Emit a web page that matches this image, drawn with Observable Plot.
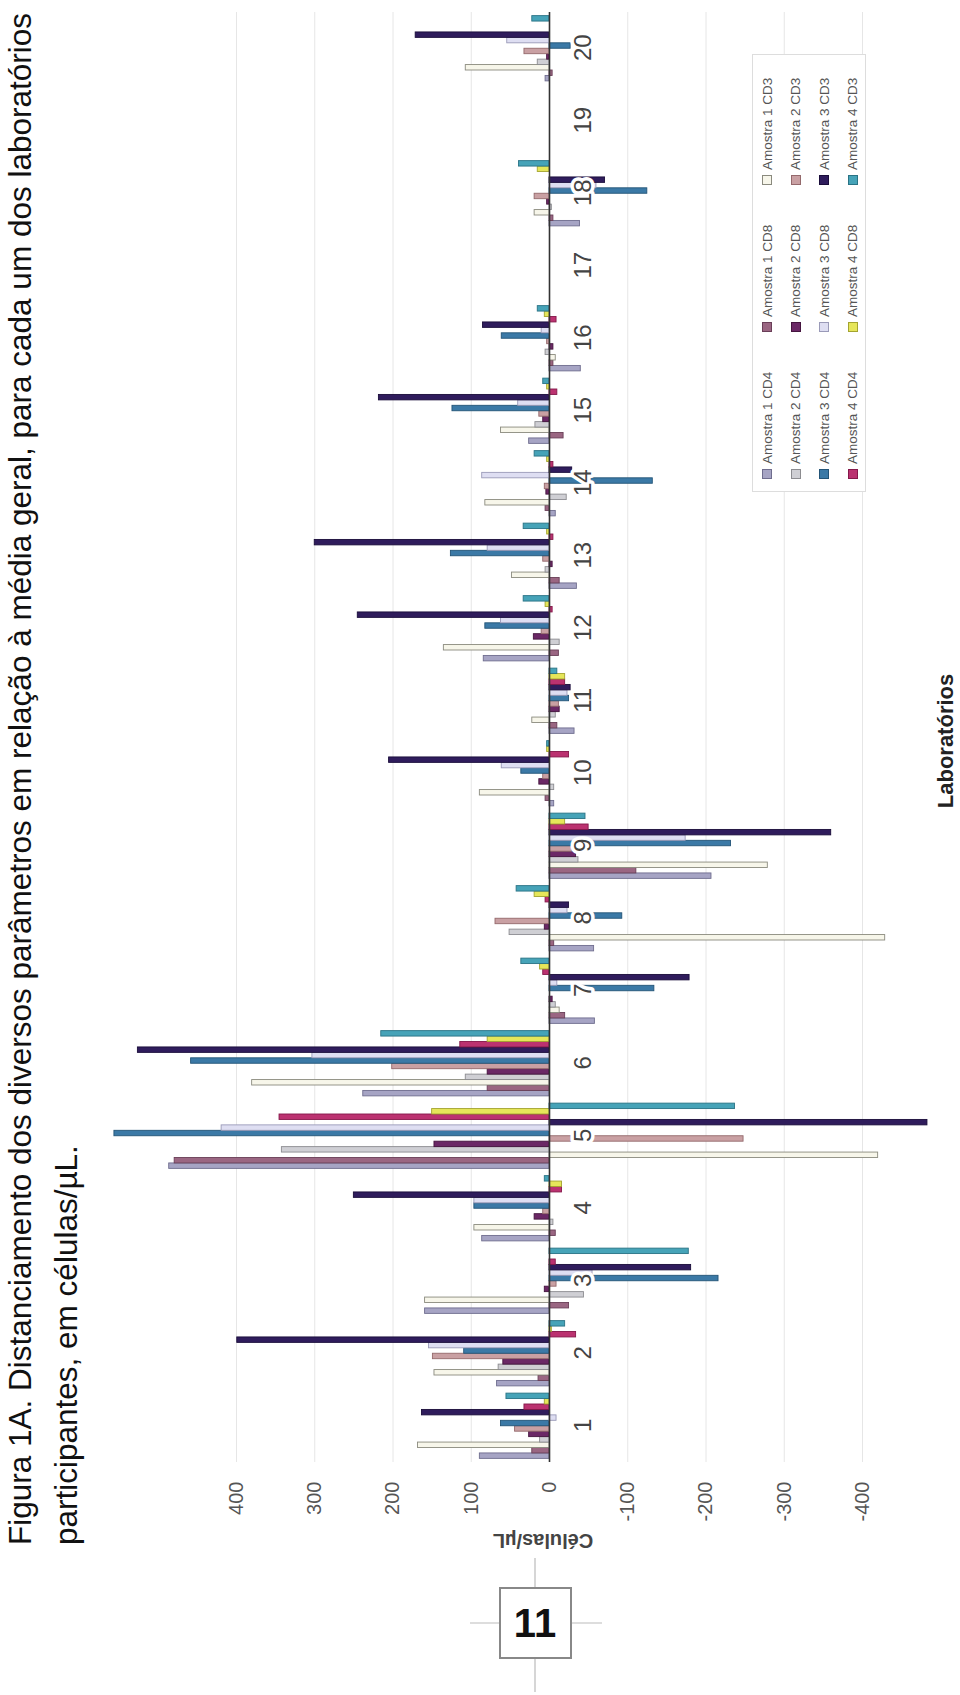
<!DOCTYPE html>
<html>
<head>
<meta charset="utf-8">
<script src="https://cdn.jsdelivr.net/npm/d3@7"></script>
<script src="https://cdn.jsdelivr.net/npm/@observablehq/plot@0.6"></script>
<style>
  html, body { margin: 0; padding: 0; background: #fff; }
  body { width: 960px; height: 1695px; position: relative; overflow: hidden; font-family: "Liberation Sans", Arial, sans-serif; }
  #rot { position: absolute; left: 0; top: 0; width: 1695px; height: 960px; transform-origin: 0 0; transform: translate(0px, 1695px) rotate(-90deg); }
  #chart { position: absolute; left: 0; top: 0; width: 1695px; height: 960px; }
  #title { position: absolute; left: 150px; top: -3px; font-size: 31.5px; line-height: 46px; color: #111; white-space: nowrap; }
  #ylab { position: absolute; left: 54px; top: 531px; width: 200px; height: 24px; line-height: 24px; text-align: center; font-size: 20px; font-weight: bold; color: #444; transform: rotate(-90deg); transform-origin: 50% 50%; }
  #xlab { position: absolute; left: 854px; top: 933px; width: 200px; height: 26px; line-height: 26px; text-align: center; font-size: 22px; font-weight: bold; color: #222; }
  #legend { position: absolute; left: 1203px; top: 752px; width: 438px; height: 114px; border: 1px solid #ddd; background: #fff; display: grid; grid-template-columns: repeat(3, 147px); grid-auto-rows: 28.5px; padding-left: 12px; box-sizing: border-box; }
  .item { display: flex; align-items: center; font-size: 13.5px; color: #555; white-space: nowrap; }
  .sw { width: 10px; height: 10px; margin-right: 5px; box-sizing: border-box; border: 1px solid; }
  #pg { position: absolute; left: 0; top: 0; }
</style>
</head>
<body>
<div id="rot">
  <div id="chart"></div>
  <div id="title"></div>
  <div id="ylab"></div>
  <div id="xlab"></div>
  <div id="legend"></div>
</div>
<svg id="pg" width="960" height="1695"></svg>
<script>
// ---- data ----
const labs = [1, 2, 3, 4, 5, 6, 7, 8, 9, 10, 11, 12, 13, 14, 15, 16, 17, 18, 19, 20];
const seriesNames = [
  "Amostra 1 CD4", "Amostra 1 CD8", "Amostra 1 CD3",
  "Amostra 2 CD4", "Amostra 2 CD8", "Amostra 2 CD3",
  "Amostra 3 CD4", "Amostra 3 CD8", "Amostra 3 CD3",
  "Amostra 4 CD4", "Amostra 4 CD8", "Amostra 4 CD3"
];
const seriesColors = ["#a6a4c4", "#9a6682", "#f7f6ea", "#cfcfd4", "#6b2866", "#c9a0a3",
                      "#3b79a6", "#dedef2", "#2f1c5c", "#bb3270", "#e6e65a", "#46a3b8"];
const seriesStrokes = ["#6f6d8e", "#6a3f58", "#8a8a7e", "#8c8c90", "#45153f", "#94696c",
                       "#235477", "#9a9ab8", "#1a0d3a", "#85184a", "#a4a430", "#2a7385"];
// values per series, labs 1..20 (células/µL)
const a1cd4 = [89, 67, 159, 86, 486, 238, -58, -57, -207, -6, -32, 84, -35, -8, 26, -40, 0, -39, 0, 5];
const a1cd8 = [22, 14, -25, -8, 479, 79, -20, -6, -111, 5, -10, -12, -13, 5, -18, -5, 0, -5, 0, -4];
const a1cd3 = [168, 147, 159, 96, -420, 380, -13, -429, -279, 89, 22, 135, 48, 82, 62, -8, 0, 19, 0, 107];
const a2cd4 = [12, 65, -44, -5, 342, 107, -8, 51, -37, -6, -8, -13, 5, -22, 18, 5, 0, -3, 0, 15];
const a2cd8 = [26, 59, 6, 19, 147, 79, -4, 6, -34, 13, -13, 20, -4, 4, 8, -5, 0, 3, 0, 3];
const a2cd3 = [44, 149, -9, 8, -248, 201, 0, 69, -29, 8, -12, 10, 8, 6, 13, 3, 0, 19, 0, 32];
const a3cd4 = [62, 109, -216, 96, 556, 458, -134, -93, -232, 36, -25, 82, 126, -132, 124, 61, 0, -125, 0, -27];
const a3cd8 = [-9, 154, -55, 96, 419, 303, -10, -23, -174, 61, -23, 62, 79, 86, 40, 10, 0, -60, 0, 54];
const a3cd3 = [163, 399, -181, 250, -483, 526, -179, -25, -360, 205, -27, 245, 300, -29, 218, 85, 0, -71, 0, 171];
const a4cd4 = [32, -34, -8, -16, 345, 114, 8, 5, -50, -25, -20, -4, -5, -5, -10, -9, 0, 0, 0, 0];
const a4cd8 = [6, -3, 0, -16, 150, 79, 12, 19, -20, 3, -20, 5, 3, 3, 3, 6, 0, 15, 0, 0];
const a4cd3 = [55, -20, -178, 6, -237, 215, 36, 42, -46, 3, -10, 33, 33, 19, 8, 15, 0, 39, 0, 22];
const seriesValues = [a1cd4, a1cd8, a1cd3, a2cd4, a2cd8, a2cd3, a3cd4, a3cd8, a3cd3, a4cd4, a4cd8, a4cd3];
const yTicks = [-400, -300, -200, -100, 0, 100, 200, 300, 400];
const titleLines = [
  "Figura 1A. Distanciamento dos diversos parâmetros em relação à média geral, para cada um dos laboratórios",
  "participantes, em células/µL."
];
const yTitle = "Células/µL";
const xTitle = "Laboratórios";
const pageNumber = "11";

// ---- table ----
const data = labs.flatMap((lab, i) => seriesValues.map((vals, s) => ({lab, s, v: vals[i]})));
const groupWidth = 0.9;
const barW = groupWidth / seriesNames.length;

const chart = Plot.plot({
  width: 1695,
  height: 960,
  marginLeft: 233,
  marginRight: 12,
  marginTop: 236,
  marginBottom: 98,
  style: {fontFamily: "Liberation Sans, Arial, sans-serif", fontSize: "20px", color: "#555", background: "transparent"},
  x: {domain: [0.5, 20.5], axis: null},
  y: {domain: [-400, 400], ticks: yTicks, tickSize: 0, tickPadding: 20, tickFormat: d => String(d), label: null},
  color: {type: "identity"},
  marks: [
    Plot.ruleY(yTicks, {stroke: "#e6e6e6", strokeWidth: 1}),
    Plot.rect(data, {
      x1: d => d.lab - groupWidth / 2 + d.s * barW,
      x2: d => d.lab - groupWidth / 2 + (d.s + 1) * barW,
      y1: () => 0,
      y2: d => d.v,
      fill: d => seriesColors[d.s],
      stroke: d => seriesStrokes[d.s],
      strokeWidth: 0.9
    }),
    Plot.ruleY([0], {stroke: "#333", strokeWidth: 1.6}),
    Plot.text(labs, {x: d => d, y: () => 0, text: d => String(d), dy: 34, fontSize: 24, fill: "#444", stroke: "white", strokeWidth: 7})
  ]
});
document.getElementById("chart").appendChild(chart);

document.getElementById("title").innerHTML = titleLines.join("<br>");
document.getElementById("ylab").textContent = yTitle;
document.getElementById("xlab").textContent = xTitle;

const legend = document.getElementById("legend");
seriesNames.forEach((name, i) => {
  const item = document.createElement("div");
  item.className = "item";
  const sw = document.createElement("span");
  sw.className = "sw";
  sw.style.background = seriesColors[i];
  sw.style.borderColor = seriesStrokes[i];
  item.appendChild(sw);
  item.appendChild(document.createTextNode(name));
  legend.appendChild(item);
});

// page number box (page decoration, not chart data)
const pg = d3.select("#pg");
pg.append("line").attr("x1", 535).attr("x2", 535).attr("y1", 1558).attr("y2", 1692).attr("stroke", "#bbb").attr("stroke-width", 1.2);
pg.append("line").attr("x1", 470).attr("x2", 602).attr("y1", 1623).attr("y2", 1623).attr("stroke", "#bbb").attr("stroke-width", 1.2);
pg.append("rect").attr("x", 500).attr("y", 1588).attr("width", 71).attr("height", 70).attr("fill", "white").attr("stroke", "#888").attr("stroke-width", 2);
pg.append("text").attr("x", 535).attr("y", 1637).attr("text-anchor", "middle").attr("font-size", 40).attr("font-weight", "bold").attr("font-family", "Liberation Sans, Arial, sans-serif").attr("fill", "#111").text(pageNumber);
</script>
</body>
</html>
